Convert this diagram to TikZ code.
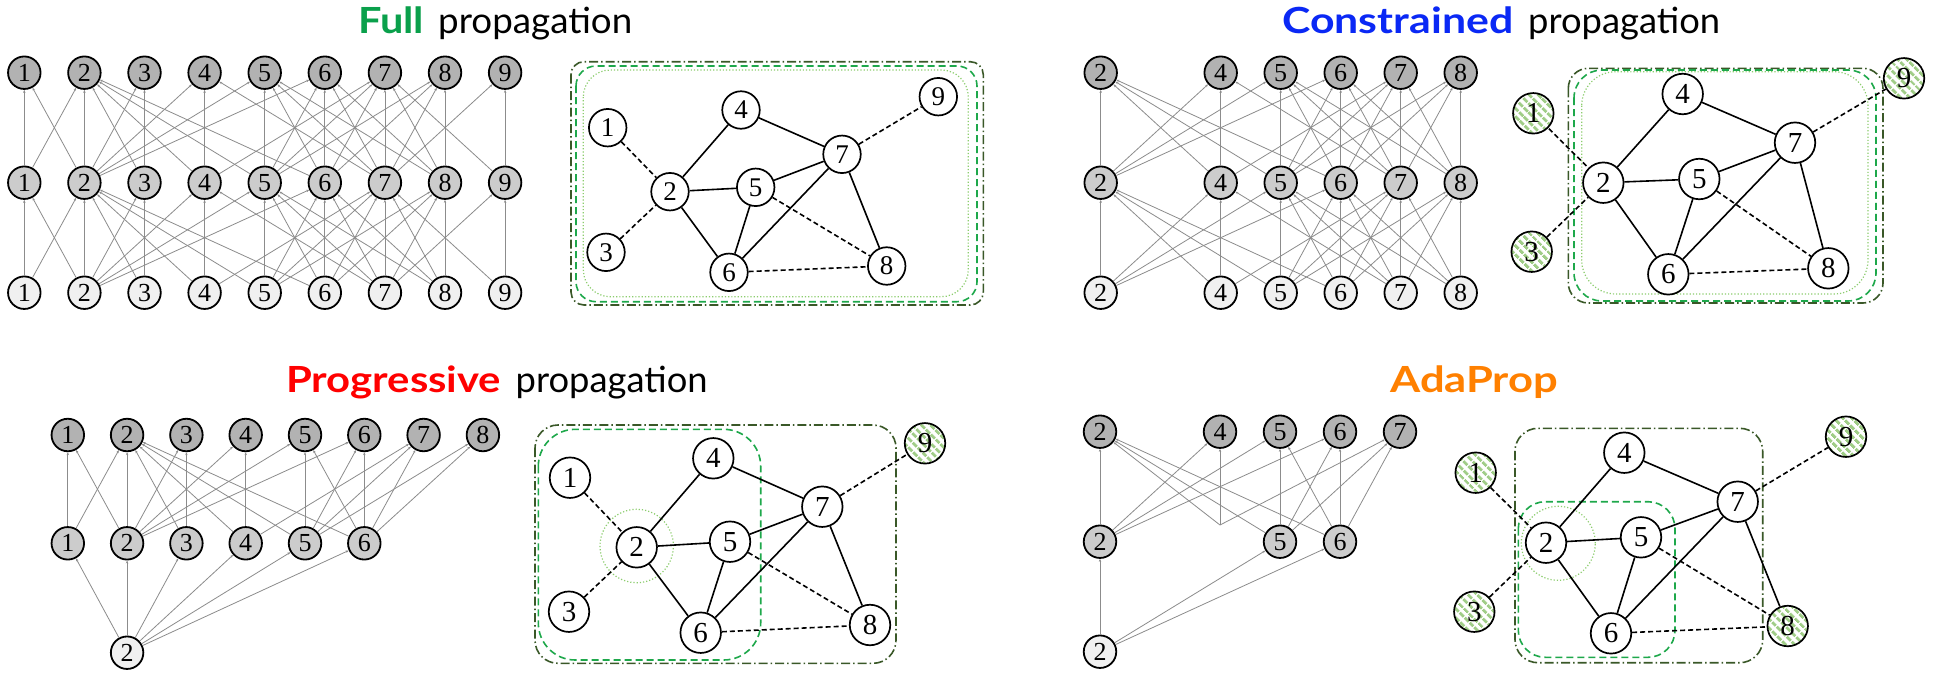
\documentclass[tikz,border=0pt]{standalone}
\usepackage{fontspec}
\usepackage{graphicx}
\setmainfont{Liberation Serif}
\newfontfamily\numfont{Liberation Serif}
\newfontfamily\titlefont{Lato}
\usetikzlibrary{arrows.meta,patterns.meta}
\definecolor{dkgreen}{RGB}{58,88,40}
\definecolor{mdgreen}{RGB}{30,168,75}
\definecolor{ltgreen}{RGB}{140,205,110}
\definecolor{hatchgreen}{RGB}{160,205,135}
\definecolor{fullc}{RGB}{10,160,75}
\definecolor{consc}{RGB}{10,40,245}
\definecolor{progc}{RGB}{255,0,0}
\definecolor{adac}{RGB}{255,128,0}
\newcommand\EdgesFull{1/1,1/2,2/1,2/2,2/3,2/4,2/5,2/6,3/2,3/3,4/2,4/4,4/7,5/2,5/5,5/6,5/7,5/8,6/2,6/5,6/6,6/7,6/8,7/4,7/5,7/6,7/7,7/8,7/9,8/5,8/6,8/7,8/8,9/7,9/9}
\newcommand\EdgesCons{2/2,2/4,2/5,2/6,4/2,4/4,4/7,5/2,5/5,5/6,5/7,5/8,6/2,6/5,6/6,6/7,6/8,7/4,7/5,7/6,7/7,7/8,8/5,8/6,8/7,8/8}
\newcommand\EdgesProg{1/1,1/2,2/1,2/2,2/3,2/4,2/5,2/6,3/2,3/3,4/2,4/4,4/7,5/2,5/5,5/6,5/7,5/8,6/2,6/5,6/6,6/7,6/8}
\newcommand\EdgesAda{2/2,2/4,2/5,2/6,4/2,4/4,4/7,5/2,5/5,5/6,5/7,6/2,6/5,6/6,6/7}
\newcommand\graphedges[1]{%
  \foreach \a/\b in {2/4,2/5,2/6,4/7,5/7,5/6,6/7,7/8} {\draw[solidE] (#1\a) -- (#1\b);}
  \foreach \a/\b in {1/2,3/2,5/8,6/8,7/9} {\draw[dashE] (#1\a) -- (#1\b);}
}
\newcommand\wbox[2]{\resizebox{#1}{\height}{#2}}
\tikzset{
  lay/.style={circle, draw, line width=1.8pt, minimum size=32.5pt, inner sep=0pt, font=\numfont\fontsize{26}{26}\selectfont},
  ltop/.style={lay, fill=black!30},
  lmid/.style={lay, fill=black!20},
  lbot/.style={lay, fill=black!6},
  gn/.style={circle, draw, line width=1.7pt, fill=white, minimum size=40.5pt, inner sep=0pt, font=\numfont\fontsize{29}{29}\selectfont},
  gns/.style={gn, minimum size=37.5pt, font=\numfont\fontsize{27}{27}\selectfont},
  hatched/.style={preaction={fill=white}, pattern={Lines[angle=-45,distance=6.5pt,line width=3.2pt]}, pattern color=hatchgreen},
  ledge/.style={draw=black!45, line width=0.8pt, -{Stealth[length=3pt,width=2.4pt]}},
  solidE/.style={line width=1.6pt},
  dashE/.style={line width=1.6pt, dash pattern=on 5pt off 3pt},
  boxA/.style={draw=dkgreen, line width=1.6pt, dash pattern=on 9pt off 3pt on 1.5pt off 3pt},
  boxB/.style={draw=mdgreen, line width=1.6pt, dash pattern=on 7pt off 4pt},
  boxC/.style={draw=ltgreen, line width=1.2pt, dash pattern=on 1.2pt off 2pt},
  ttl/.style={anchor=base west, inner sep=0pt, font=\titlefont\fontsize{36}{40}\selectfont},
}
\begin{document}
\begin{tikzpicture}[x=1pt,y=-1pt]
\fill[white] (0,0) rectangle (1936,678);
\useasboundingbox (0,0) rectangle (1936,678);

% ---------- titles ----------
\node[ttl, text=fullc] (t1a) at (358,33.5) {\wbox{66pt}{\bfseries Full}};
\node[ttl] (t1b) at (438,33.5) {\wbox{194pt}{propagation}};
\node[ttl, text=consc] (t2a) at (1282,33.5) {\wbox{231pt}{\bfseries Constrained}};
\node[ttl] (t2b) at (1528,33.5) {\wbox{192pt}{propagation}};
\node[ttl, text=progc] (t3a) at (286,392) {\wbox{215pt}{\bfseries Progressive}};
\node[ttl] (t3b) at (515.5,392) {\wbox{192pt}{propagation}};
\node[ttl, text=adac] (t4) at (1390,392) {\wbox{168pt}{\bfseries AdaProp}};

% ---------- panel 1 layered ----------
\foreach \i in {1,...,9} {
  \pgfmathsetmacro\xx{24.3+(\i-1)*60.1}
  \node[ltop] (pt\i) at (\xx,72.7) {\i};
  \node[lmid] (pm\i) at (\xx,182.7) {\i};
  \node[lbot] (pb\i) at (\xx,292.7) {\i};
}
\foreach \a/\b in \EdgesFull {
  \draw[ledge] (pm\a) -- (pt\b);
  \draw[ledge] (pb\a) -- (pm\b);
}

% ---------- panel 2 layered ----------
\foreach \i in {2,4,5,6,7,8} {
  \pgfmathsetmacro\xx{1100.7+(\i-2)*60}
  \node[ltop] (qt\i) at (\xx,72.7) {\i};
  \node[lmid] (qm\i) at (\xx,182.7) {\i};
  \node[lbot] (qb\i) at (\xx,292.7) {\i};
}
\foreach \a/\b in \EdgesCons {
  \draw[ledge] (qm\a) -- (qt\b);
  \draw[ledge] (qb\a) -- (qm\b);
}

% ---------- panel 3 layered ----------
\foreach \i in {1,...,8} {
  \pgfmathsetmacro\xx{67.8+(\i-1)*59.3}
  \node[ltop] (rt\i) at (\xx,435) {\i};
}
\foreach \i in {1,...,6} {
  \pgfmathsetmacro\xx{67.8+(\i-1)*59.3}
  \node[lmid] (rm\i) at (\xx,543.3) {\i};
}
\node[lbot] (rb2) at (127.1,652.7) {2};
\foreach \a/\b in \EdgesProg {\draw[ledge] (rm\a) -- (rt\b);}
\foreach \b in {1,...,6} {\draw[ledge] (rb2) -- (rm\b);}

% ---------- panel 4 layered ----------
\foreach \i in {2,4,5,6,7} {
  \pgfmathsetmacro\xx{1100+(\i-2)*60}
  \node[ltop] (st\i) at (\xx,431.7) {\i};
}
\foreach \i in {2,5,6} {
  \pgfmathsetmacro\xx{1100+(\i-2)*60}
  \node[lmid] (sm\i) at (\xx,541.7) {\i};
}
\coordinate (sm4) at (1220,525);
\node[lbot] (sb2) at (1100,651.7) {2};
\foreach \a/\b in \EdgesAda {\draw[ledge] (sm\a) -- (st\b);}
\foreach \b in {2,5,6} {\draw[ledge] (sb2) -- (sm\b);}

% ---------- panel 1 graph ----------
\draw[boxA, rounded corners=13pt] (571,61.7) rectangle (983.3,305);
\draw[boxB, rounded corners=20pt] (576,66) rectangle (977,301.7);
\draw[boxC, rounded corners=27pt] (583.3,70) rectangle (968.3,296.7);
\node[gns] (A1) at (607.7,127.7) {1};
\node[gns] (A2) at (670,191.7) {2};
\node[gns] (A3) at (606,252.3) {3};
\node[gns] (A4) at (741,110) {4};
\node[gns] (A5) at (755.7,187.3) {5};
\node[gns] (A6) at (729,272.3) {6};
\node[gns] (A7) at (842,154.3) {7};
\node[gns] (A8) at (886.7,266) {8};
\node[gns] (A9) at (938.3,96.7) {9};
\graphedges{A}

% ---------- panel 2 graph ----------
\draw[boxA, rounded corners=20pt] (1568.3,68.3) rectangle (1883,303);
\draw[boxB, rounded corners=28pt] (1574,70) rectangle (1876,301);
\draw[boxC, rounded corners=34pt] (1581.7,71.7) rectangle (1868,294);
\node[gn,hatched] (B1) at (1533.3,113.3) {1};
\node[gn] (B2) at (1603.3,182.7) {2};
\node[gn,hatched] (B3) at (1531.7,251.7) {3};
\node[gn] (B4) at (1682.7,94) {4};
\node[gn] (B5) at (1699.3,179) {5};
\node[gn] (B6) at (1668.3,274.3) {6};
\node[gn] (B7) at (1795,142.7) {7};
\node[gn] (B8) at (1828.3,268.3) {8};
\node[gn,hatched] (B9) at (1904,78.3) {9};
\graphedges{B}

% ---------- panel 3 graph ----------
\draw[boxA, rounded corners=23pt] (535,425) rectangle (896,663.3);
\draw[boxB, rounded corners=37pt] (538.3,429.3) rectangle (760.7,660);
\draw[boxC] (636.7,546) circle[radius=36.7pt];
\node[gn] (C1) at (570,477.7) {1};
\node[gn] (C2) at (636.7,547.3) {2};
\node[gn] (C3) at (569,611.7) {3};
\node[gn] (C4) at (713.3,458.3) {4};
\node[gn] (C5) at (730,541.7) {5};
\node[gn] (C6) at (700.7,632.7) {6};
\node[gn] (C7) at (822.3,506.7) {7};
\node[gn] (C8) at (870,625) {8};
\node[gn,hatched] (C9) at (925,443.3) {9};
\graphedges{C}

% ---------- panel 4 graph ----------
\draw[boxA, rounded corners=23pt] (1515,428.3) rectangle (1762.7,662.7);
\draw[boxB, rounded corners=27pt] (1518.3,501.7) rectangle (1675,657.3);
\draw[boxC] (1558.3,543.3) circle[radius=37pt];
\node[gn,hatched] (D1) at (1475.7,472.7) {1};
\node[gn] (D2) at (1546,542.7) {2};
\node[gn,hatched] (D3) at (1474.3,611.7) {3};
\node[gn] (D4) at (1624.3,452.7) {4};
\node[gn] (D5) at (1641,537.3) {5};
\node[gn] (D6) at (1611,633.3) {6};
\node[gn] (D7) at (1737.7,501.7) {7};
\node[gn,hatched] (D8) at (1787.7,626) {8};
\node[gn,hatched] (D9) at (1846,436.7) {9};
\graphedges{D}
\end{tikzpicture}
\end{document}
